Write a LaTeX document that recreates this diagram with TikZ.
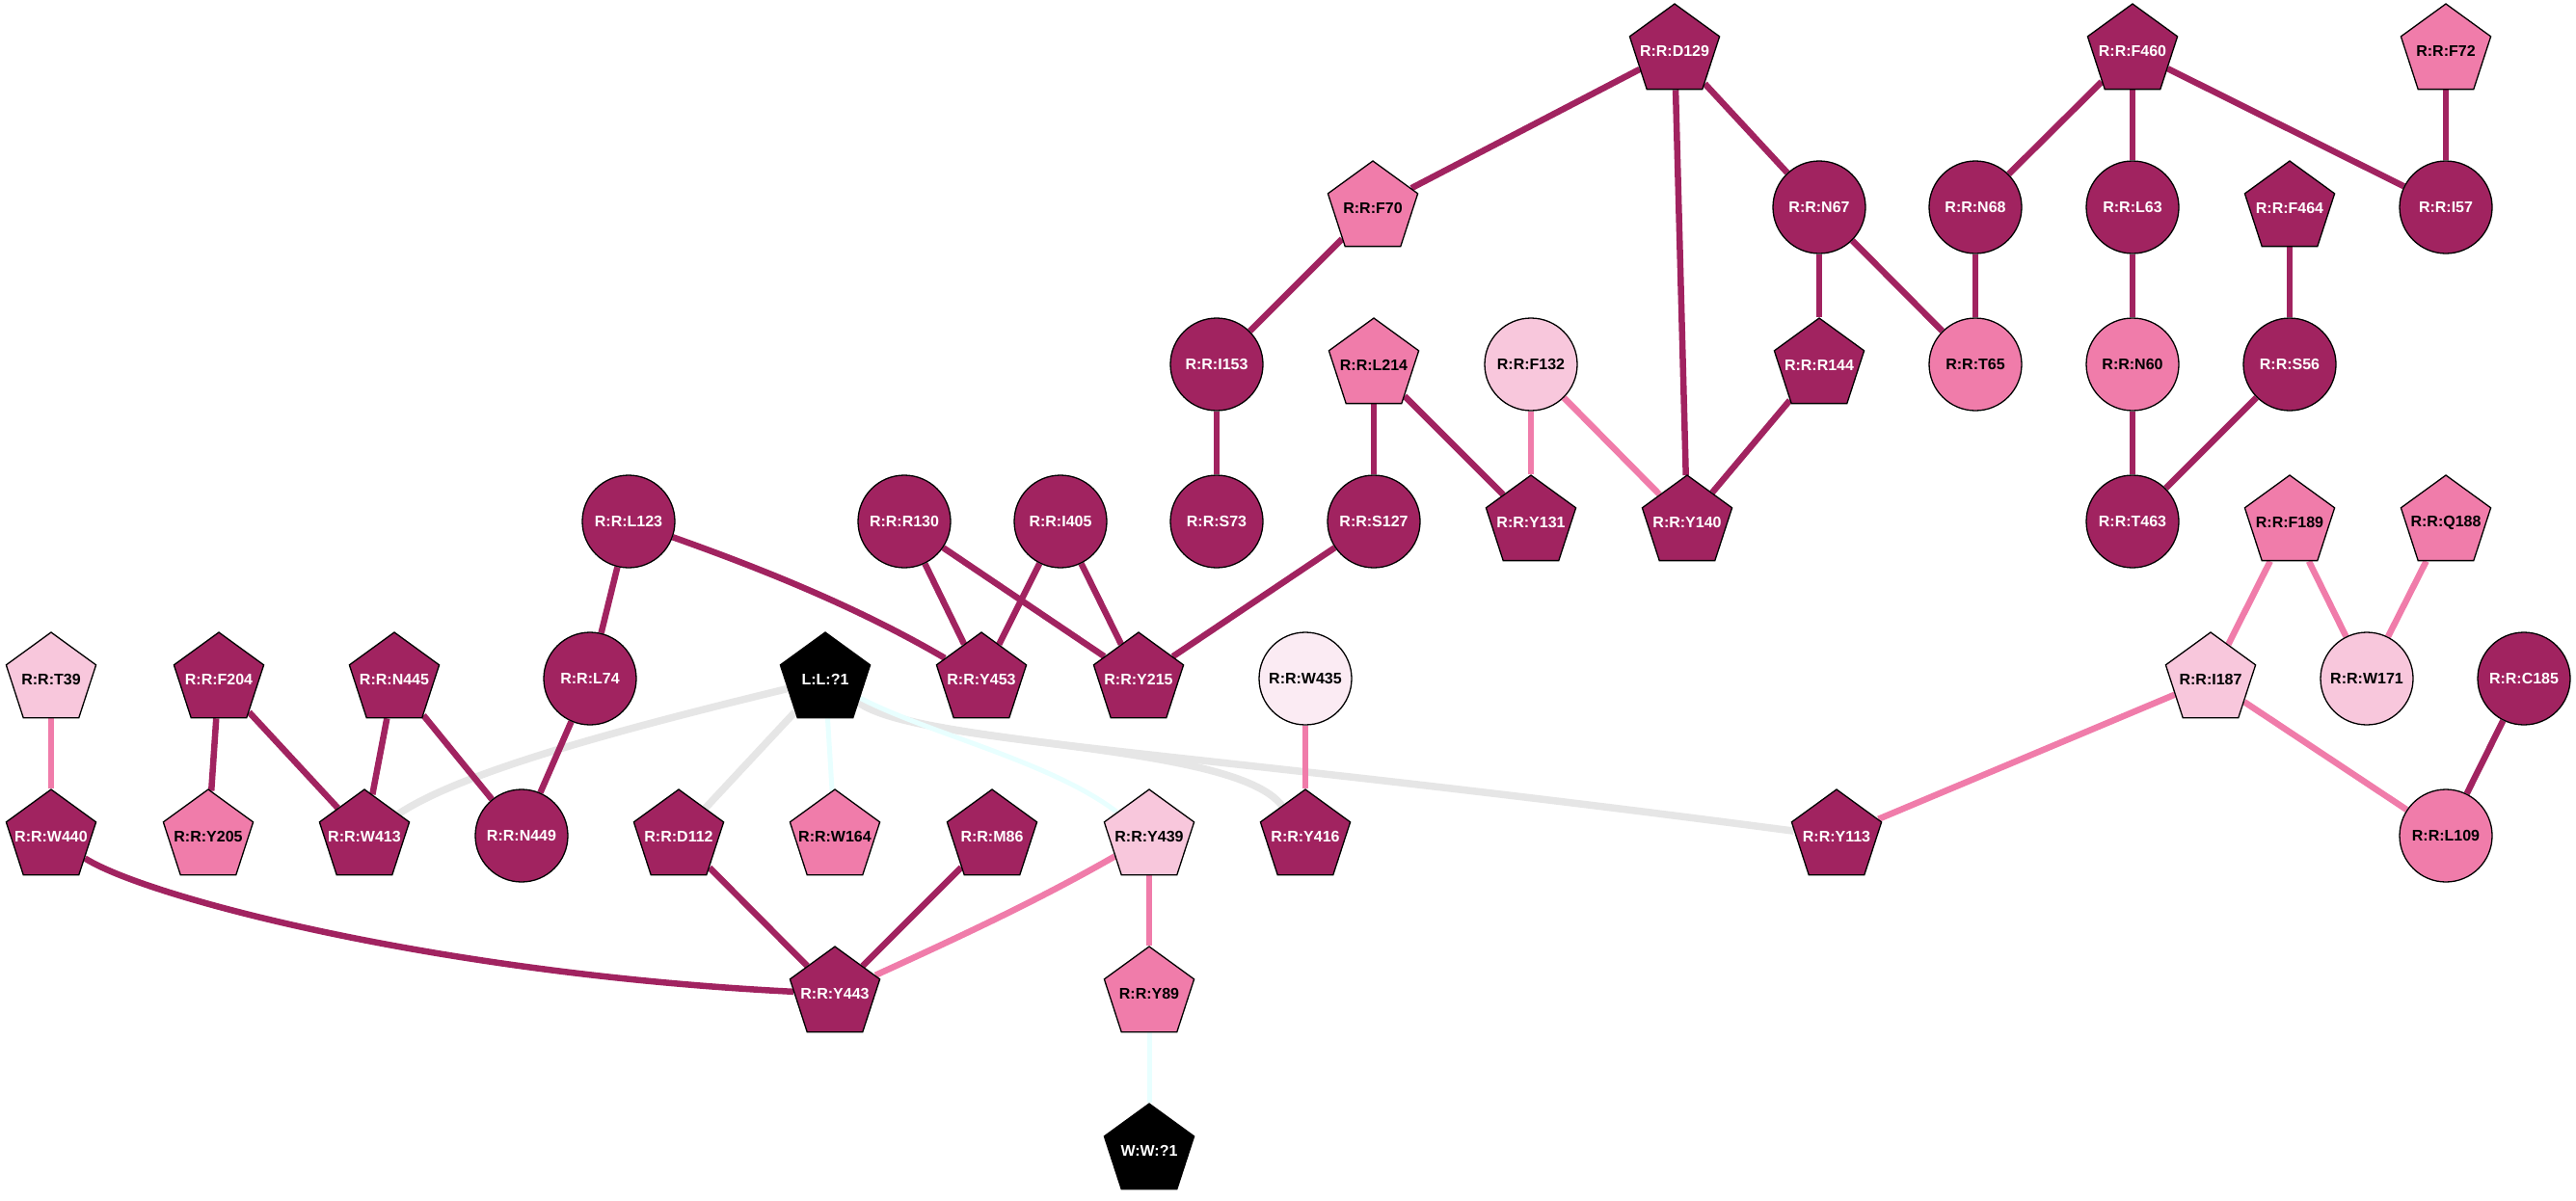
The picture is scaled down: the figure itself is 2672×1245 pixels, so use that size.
\documentclass[tikz,border=0pt]{standalone}
\usepackage{fontspec}
\setmainfont{Liberation Sans}
\usetikzlibrary{shapes.geometric}
\pgfdeclarelayer{bg}
\pgfdeclarelayer{edges}
\pgfsetlayers{bg,edges,main}
\definecolor{dk}{HTML}{A12360}
\definecolor{md}{HTML}{F07CAA}
\definecolor{lt}{HTML}{F8C7DC}
\definecolor{vl}{HTML}{FBEBF3}
\definecolor{gr}{HTML}{E6E6E6}
\definecolor{cy}{HTML}{E8FFFF}
\newcommand\mylabfont{\fontsize{16}{16}\selectfont\bfseries}
\newcommand\ndlab[1]{\makebox[0pt][c]{#1}}
\tikzset{
 nd/.style={draw=black, line width=1.3pt, inner sep=0pt, font=\mylabfont},
 pg/.style={nd, regular polygon, regular polygon sides=5, minimum size=98pt},
 cc/.style={nd, circle, minimum size=96pt},
 cD/.style={fill=dk, text=white},
 cM/.style={fill=md, text=black},
 cL/.style={fill=lt, text=black},
 cV/.style={fill=vl, text=black},
 cK/.style={fill=black, text=white},
 eD/.style={draw=dk, line width=6.5pt},
 eP/.style={draw=md, line width=6.5pt},
 eG/.style={draw=gr, line width=7.5pt},
 eC/.style={draw=cy, line width=5pt},
}
\begin{document}
\begin{tikzpicture}[x=1pt,y=-1pt]
\begin{pgfonlayer}{bg}
\fill[white] (0,0) rectangle (2672,1245);
\end{pgfonlayer}
\useasboundingbox (0,0) rectangle (2672,1245);
% row 1
\node[pg,cD] (D129) at (1737,53) {\ndlab{R:R:D129}};
\node[pg,cD] (F460) at (2212,53) {\ndlab{R:R:F460}};
\node[pg,cM] (F72) at (2537,53) {\ndlab{R:R:F72}};
% row 2
\node[pg,cM] (F70) at (1424,216) {\ndlab{R:R:F70}};
\node[cc,cD] (N67) at (1887,215) {\ndlab{R:R:N67}};
\node[cc,cD] (N68) at (2049,215) {\ndlab{R:R:N68}};
\node[cc,cD] (L63) at (2212,215) {\ndlab{R:R:L63}};
\node[pg,cD] (F464) at (2375,216) {\ndlab{R:R:F464}};
\node[cc,cD] (I57) at (2537,215) {\ndlab{R:R:I57}};
% row 3
\node[cc,cD] (I153) at (1262,378) {\ndlab{R:R:I153}};
\node[pg,cM] (L214) at (1425,379) {\ndlab{R:R:L214}};
\node[cc,cL] (F132) at (1588,378) {\ndlab{R:R:F132}};
\node[pg,cD] (R144) at (1887,379) {\ndlab{R:R:R144}};
\node[cc,cM] (T65) at (2049,378) {\ndlab{R:R:T65}};
\node[cc,cM] (N60) at (2212,378) {\ndlab{R:R:N60}};
\node[cc,cD] (S56) at (2375,378) {\ndlab{R:R:S56}};
% row 4
\node[cc,cD] (L123) at (652,541) {\ndlab{R:R:L123}};
\node[cc,cD] (R130) at (938,541) {\ndlab{R:R:R130}};
\node[cc,cD] (I405) at (1100,541) {\ndlab{R:R:I405}};
\node[cc,cD] (S73) at (1262,541) {\ndlab{R:R:S73}};
\node[cc,cD] (S127) at (1425,541) {\ndlab{R:R:S127}};
\node[pg,cD] (Y131) at (1588,542) {\ndlab{R:R:Y131}};
\node[pg,cD] (Y140) at (1750,542) {\ndlab{R:R:Y140}};
\node[cc,cD] (T463) at (2212,541) {\ndlab{R:R:T463}};
\node[pg,cM] (F189) at (2375,542) {\ndlab{R:R:F189}};
\node[pg,cM] (Q188) at (2537,542) {\ndlab{R:R:Q188}};
% row 5
\node[pg,cL] (T39) at (53,705) {\ndlab{R:R:T39}};
\node[pg,cD] (F204) at (227,705) {\ndlab{R:R:F204}};
\node[pg,cD] (N445) at (409,705) {\ndlab{R:R:N445}};
\node[cc,cD] (L74) at (612,704) {\ndlab{R:R:L74}};
\node[pg,cK] (L1) at (856,705) {\ndlab{L:L:?1}};
\node[pg,cD] (Y453) at (1018,705) {\ndlab{R:R:Y453}};
\node[pg,cD] (Y215) at (1181,705) {\ndlab{R:R:Y215}};
\node[cc,cV] (W435) at (1354,704) {\ndlab{R:R:W435}};
\node[pg,cL] (I187) at (2293,705) {\ndlab{R:R:I187}};
\node[cc,cL] (W171) at (2455,704) {\ndlab{R:R:W171}};
\node[cc,cD] (C185) at (2618,704) {\ndlab{R:R:C185}};
% row 6
\node[pg,cD] (W440) at (53,868) {\ndlab{R:R:W440}};
\node[pg,cM] (Y205) at (216,868) {\ndlab{R:R:Y205}};
\node[pg,cD] (W413) at (378,868) {\ndlab{R:R:W413}};
\node[cc,cD] (N449) at (541,867) {\ndlab{R:R:N449}};
\node[pg,cD] (D112) at (704,868) {\ndlab{R:R:D112}};
\node[pg,cM] (W164) at (866,868) {\ndlab{R:R:W164}};
\node[pg,cD] (M86) at (1029,868) {\ndlab{R:R:M86}};
\node[pg,cL] (Y439) at (1192,868) {\ndlab{R:R:Y439}};
\node[pg,cD] (Y416) at (1354,868) {\ndlab{R:R:Y416}};
\node[pg,cD] (Y113) at (1905,868) {\ndlab{R:R:Y113}};
\node[cc,cM] (L109) at (2537,867) {\ndlab{R:R:L109}};
% row 7, 8
\node[pg,cD] (Y443) at (866,1031) {\ndlab{R:R:Y443}};
\node[pg,cM] (Y89) at (1192,1031) {\ndlab{R:R:Y89}};
\node[pg,cK] (W1) at (1192,1194) {\ndlab{W:W:?1}};

\begin{pgfonlayer}{edges}
% grey
\draw[eG] (L1) .. controls (650,755) and (480,800) .. (W413);
\draw[eG] (L1) -- (D112);
\draw[eG] (L1) .. controls (960,775) and (1280,770) .. (Y416);
\draw[eG] (L1) .. controls (950,770) and (1200,775) .. (Y113);
% cyan
\draw[eC] (L1) -- (W164);
\draw[eC] (L1) .. controls (960,760) and (1090,790) .. (Y439);
\draw[eC] (Y89) -- (W1);
% pink
\draw[eP] (F132) -- (Y131);
\draw[eP] (F132) -- (Y140);
\draw[eP] (F189) -- (I187);
\draw[eP] (F189) -- (W171);
\draw[eP] (Q188) -- (W171);
\draw[eP] (T39) -- (W440);
\draw[eP] (W435) -- (Y416);
\draw[eP] (I187) -- (Y113);
\draw[eP] (I187) -- (L109);
\draw[eP] (Y439) .. controls (1075,935) and (995,972) .. (Y443);
\draw[eP] (Y439) -- (Y89);
% dark
\draw[eD] (D129) -- (F70);
\draw[eD] (D129) -- (Y140);
\draw[eD] (D129) -- (N67);
\draw[eD] (F460) -- (N68);
\draw[eD] (F460) -- (L63);
\draw[eD] (F460) -- (I57);
\draw[eD] (F72) -- (I57);
\draw[eD] (F70) -- (I153);
\draw[eD] (N67) -- (R144);
\draw[eD] (N67) -- (T65);
\draw[eD] (N68) -- (T65);
\draw[eD] (L63) -- (N60);
\draw[eD] (F464) -- (S56);
\draw[eD] (I153) -- (S73);
\draw[eD] (L214) -- (S127);
\draw[eD] (L214) -- (Y131);
\draw[eD] (R144) -- (Y140);
\draw[eD] (N60) -- (T463);
\draw[eD] (S56) -- (T463);
\draw[eD] (L123) -- (L74);
\draw[eD] (L123) .. controls (790,590) and (890,630) .. (Y453);
\draw[eD] (R130) -- (Y453);
\draw[eD] (R130) -- (Y215);
\draw[eD] (I405) -- (Y453);
\draw[eD] (I405) -- (Y215);
\draw[eD] (S127) -- (Y215);
\draw[eD] (F204) -- (Y205);
\draw[eD] (F204) -- (W413);
\draw[eD] (N445) -- (W413);
\draw[eD] (N445) -- (N449);
\draw[eD] (L74) -- (N449);
\draw[eD] (C185) -- (L109);
\draw[eD] (W440) .. controls (150,930) and (450,1010) .. (Y443);
\draw[eD] (D112) -- (Y443);
\draw[eD] (M86) -- (Y443);
\end{pgfonlayer}
\end{tikzpicture}
\end{document}
